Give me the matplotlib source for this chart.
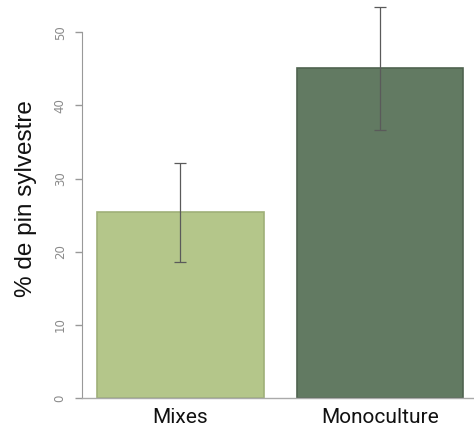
import matplotlib
matplotlib.use("Agg")
import matplotlib.pyplot as plt

categories = ["Mixes", "Monoculture"]
values = [25.4, 45.1]
err_low = [18.6, 36.6]
err_high = [32.1, 53.4]
yticks = [0, 10, 20, 30, 40, 50]

colors = ["#b4c68a", "#627a62"]
edges = ["#9fb079", "#4f634f"]

fig = plt.figure(figsize=(4.74, 4.32), dpi=100)
ax = fig.add_axes([82/474, 34/432, 1 - 82/474, 398/432])

pos = [0, 1.2]
ax.bar(pos, values, width=1.0, color=colors, edgecolor=edges, linewidth=1.2, zorder=2)
lower = [v - l for v, l in zip(values, err_low)]
upper = [h - v for v, h in zip(values, err_high)]
ax.errorbar(pos, values, yerr=[lower, upper], fmt="none", ecolor="#5a5a5a",
            elinewidth=0.9, capsize=4.3, capthick=0.9, zorder=3)

ax.set_xlim(-0.59, 1.2 + 0.564)
ax.set_ylim(0, 54.4)
ax.set_xticks(pos)
ax.set_xticklabels(categories, fontsize=15, family="Roboto", color="#111111")
ax.tick_params(axis="x", length=0, pad=7)
ax.set_yticks(yticks)
ax.set_yticklabels([str(t) for t in yticks], fontsize=8.5, color="#8a8a8a", rotation=90,
                   va="center")
ax.tick_params(axis="y", length=5, color="#999999", width=1, pad=6)
ax.set_ylabel("% de pin sylvestre", fontsize=17.5, family="Liberation Sans", color="#111111",
              labelpad=12)

for s in ["top", "right"]:
    ax.spines[s].set_visible(False)
ax.spines["left"].set_bounds(0, 50)
ax.spines["left"].set_color("#999999")
ax.spines["bottom"].set_color("#aaaaaa")
ax.spines["bottom"].set_linewidth(1)

fig.savefig("out.png", dpi=100)
